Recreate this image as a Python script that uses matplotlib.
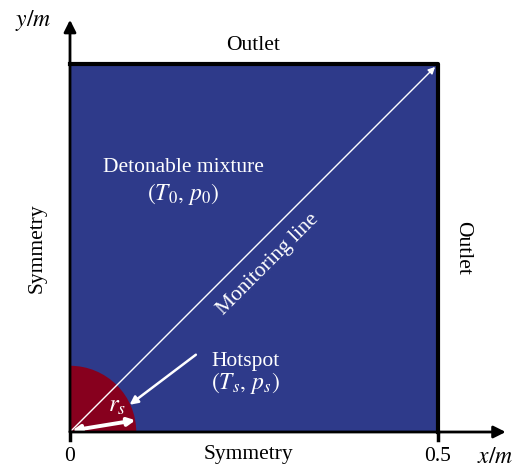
import matplotlib
matplotlib.use("Agg")
import matplotlib.pyplot as plt
from matplotlib.patches import Rectangle, Wedge

plt.rcParams["font.family"] = ["Liberation Serif", "DejaVu Serif"]
plt.rcParams["mathtext.fontset"] = "stix"

# domain and hotspot
domain_size = 0.5
hotspot_radius = 0.09
x_ticks = [0, 0.5]
x_tick_labels = ["0", "0.5"]

# monitoring line endpoints (diagonal of the domain)
monitor_start = [0.0, 0.0]
monitor_end = [0.5, 0.5]

BLUE = "#2e3a8a"
RED = "#87001e"
FS = 15.5

fig = plt.figure(figsize=(5.16, 4.70), dpi=100)
ax = fig.add_axes([70 / 516, 38 / 470, 368 / 516, 368 / 470])
ax.set_xlim(0, domain_size)
ax.set_ylim(0, domain_size)
ax.set_axis_off()

# domain and hotspot
ax.add_patch(Rectangle((0, 0), domain_size, domain_size, facecolor=BLUE,
                       edgecolor="none", zorder=1))
ax.add_patch(Wedge((0, 0), hotspot_radius, 0, 90, facecolor=RED,
                   edgecolor="none", zorder=2))

# top and right boundary lines
ax.plot([0, domain_size, domain_size], [domain_size, domain_size, 0],
        color="black", lw=3, zorder=5, clip_on=False, solid_capstyle="projecting")

# axes arrows
ax.annotate("", xy=(0.592, 0), xytext=(0, 0),
            arrowprops=dict(arrowstyle="-|>", color="black", lw=2,
                            mutation_scale=18, shrinkA=0, shrinkB=0),
            annotation_clip=False, zorder=6)
ax.annotate("", xy=(0, 0.56), xytext=(0, 0),
            arrowprops=dict(arrowstyle="-|>", color="black", lw=2,
                            mutation_scale=18, shrinkA=0, shrinkB=0),
            annotation_clip=False, zorder=6)
for xt, lab in zip(x_ticks, x_tick_labels):
    ax.plot([xt, xt], [0, -0.011], color="black", lw=2.5, clip_on=False, zorder=6)
    ax.text(xt, -0.02, lab, ha="center", va="top", fontsize=FS)

ax.text(0.578, -0.02, "$x/m$", ha="center", va="top", fontsize=17)
ax.text(-0.05, 0.559, "$y/m$", ha="center", va="center", fontsize=17)

# monitoring line
ax.annotate("", xy=monitor_end, xytext=monitor_start,
            arrowprops=dict(arrowstyle="-|>", color="white", lw=1,
                            mutation_scale=10, shrinkA=0, shrinkB=3),
            zorder=4)
ax.text(0.269, 0.228, "Monitoring line", color="white", fontsize=FS,
        rotation=45, ha="center", va="center", rotation_mode="anchor", zorder=4)

# hotspot radius arrow
ax.annotate("", xy=(0.089, 0.016), xytext=(0.003, 0.002),
            arrowprops=dict(arrowstyle="<|-|>", color="white", lw=2.8,
                            mutation_scale=11, shrinkA=0, shrinkB=0),
            zorder=4)
ax.text(0.064, 0.036, "$r_s$", color="white", fontsize=18, ha="center",
        va="center", zorder=4)

# hotspot label arrow
ax.annotate("", xy=(0.081, 0.037), xytext=(0.171, 0.105),
            arrowprops=dict(arrowstyle="-|>", color="white", lw=1.8,
                            mutation_scale=12, shrinkA=0, shrinkB=0),
            zorder=4)
ax.text(0.238, 0.096, "Hotspot", color="white", fontsize=FS, ha="center",
        va="center", zorder=4)
ax.text(0.238, 0.066, r"$(T_s,\,p_s)$", color="white", fontsize=17,
        ha="center", va="center", zorder=4)

ax.text(0.1535, 0.359, "Detonable mixture", color="white", fontsize=FS,
        ha="center", va="center", zorder=4)
ax.text(0.1535, 0.324, r"$(T_0,\,p_0)$", color="white", fontsize=17,
        ha="center", va="center", zorder=4)

# boundary labels
ax.text(0.249, 0.525, "Outlet", fontsize=FS, ha="center", va="center")
ax.text(0.533, 0.25, "Outlet", fontsize=FS, ha="center", va="center",
        rotation=-90)
ax.text(-0.044, 0.25, "Symmetry", fontsize=FS, ha="center", va="center",
        rotation=90)
ax.text(0.242, -0.031, "Symmetry", fontsize=FS, ha="center", va="center")

fig.savefig("out.png", dpi=100)
